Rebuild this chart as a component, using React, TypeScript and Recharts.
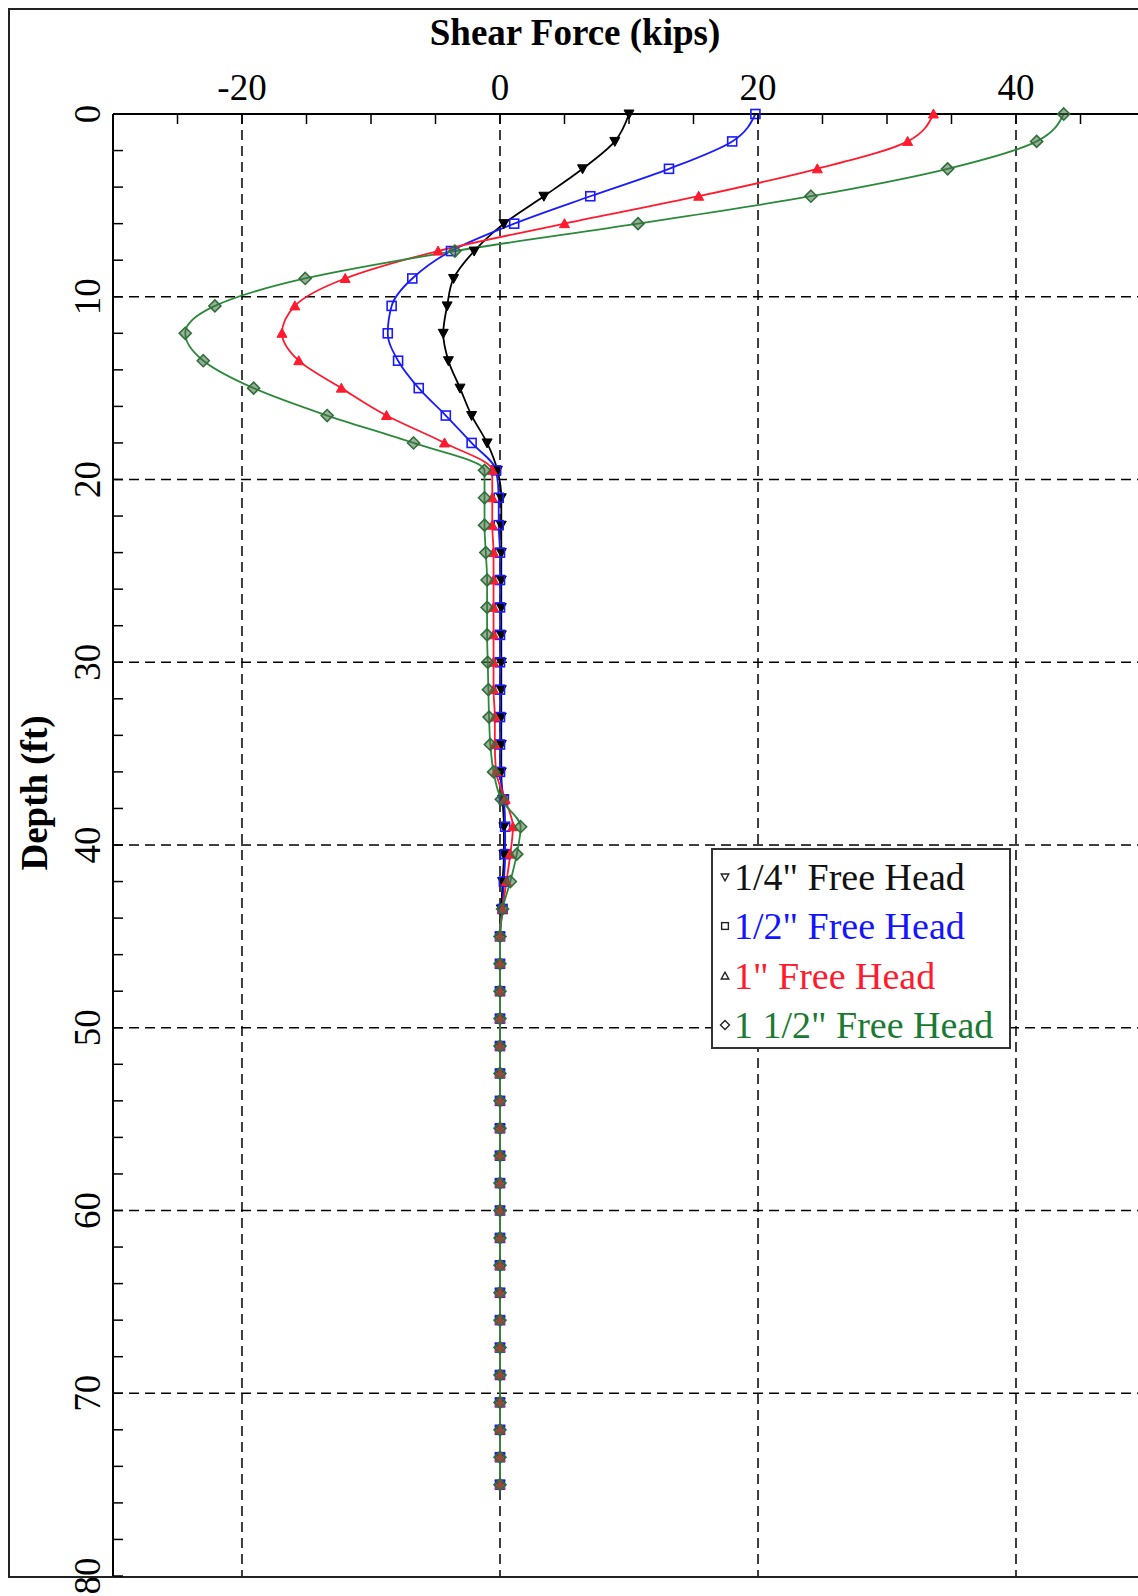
import { Line, LineChart, ReferenceLine, XAxis, YAxis } from "recharts";

// depth below pile head (ft), one marker every 1.5 ft
const DEPTHS = [
  0, 1.5, 3, 4.5, 6, 7.5, 9, 10.5, 12, 13.5, 15, 16.5, 18, 19.5, 21, 22.5, 24, 25.5, 27, 28.5, 30,
  31.5, 33, 34.5, 36, 37.5, 39, 40.5, 42, 43.5, 45, 46.5, 48, 49.5, 51, 52.5, 54, 55.5, 57, 58.5, 60,
  61.5, 63, 64.5, 66, 67.5, 69, 70.5, 72, 73.5, 75,
];

// shear force (kips)
const SHEAR_QUARTER = [
  10.0, 8.9, 6.4, 3.4, 0.3, -2.0, -3.6, -4.1, -4.4, -4.0, -3.1, -2.2, -1.0, -0.2,
  0.1, 0.1, 0.1, 0.1, 0.1, 0.1, 0.1, 0.1, 0.1, 0.1, 0.1,
  0.2, 0.3, 0.3, 0.2, 0.1,
  0, 0, 0, 0, 0, 0, 0, 0, 0, 0, 0, 0, 0, 0, 0, 0, 0, 0, 0, 0, 0,
];
const SHEAR_HALF = [
  19.8, 18.0, 13.1, 7.0, 1.1, -3.8, -6.8, -8.4, -8.7, -7.9, -6.3, -4.2, -2.2, -0.3,
  -0.1, -0.1, 0, 0, 0, 0, 0, 0, 0, 0, 0,
  0.3, 0.4, 0.4, 0.3, 0.2,
  0, 0, 0, 0, 0, 0, 0, 0, 0, 0, 0, 0, 0, 0, 0, 0, 0, 0, 0, 0, 0,
];
const SHEAR_ONE = [
  33.6, 31.6, 24.6, 15.4, 5.0, -4.8, -12.0, -15.9, -16.9, -15.6, -12.3, -8.8, -4.3, -0.6,
  -0.6, -0.6, -0.5, -0.5, -0.5, -0.5, -0.5, -0.5, -0.4, -0.4, -0.3,
  0.4, 1.0, 0.8, 0.5, 0.2,
  0, 0, 0, 0, 0, 0, 0, 0, 0, 0, 0, 0, 0, 0, 0, 0, 0, 0, 0, 0, 0,
];
const SHEAR_ONE_HALF = [
  43.7, 41.6, 34.7, 24.1, 10.7, -3.5, -15.1, -22.1, -24.4, -23.0, -19.1, -13.4, -6.7, -1.2,
  -1.2, -1.2, -1.1, -1.0, -1.0, -1.0, -0.95, -0.9, -0.85, -0.75, -0.5,
  0.1, 1.6, 1.3, 0.8, 0.2,
  0, 0, 0, 0, 0, 0, 0, 0, 0, 0, 0, 0, 0, 0, 0, 0, 0, 0, 0, 0, 0,
];

const X_TICKS = [-30, -25, -20, -15, -10, -5, 0, 5, 10, 15, 20, 25, 30, 35, 40, 45, 50];
const X_LABELS = [-20, 0, 20, 40];
const Y_TICKS = [
  0, 2, 4, 6, 8, 10, 12, 14, 16, 18, 20, 22, 24, 26, 28, 30, 32, 34, 36, 38, 40,
  42, 44, 46, 48, 50, 52, 54, 56, 58, 60, 62, 64, 66, 68, 70, 72, 74, 76, 78, 80,
];
const Y_LABELS = [0, 10, 20, 30, 40, 50, 60, 70, 80];
const X_GRID = [-20, 0, 20, 40];
const Y_GRID = [10, 20, 30, 40, 50, 60, 70];

const SERIES = [
  { key: "quarter", name: '1/4" Free Head', color: "#000000", text: "#111111", marker: "down" },
  { key: "half", name: '1/2" Free Head', color: "#1a1aff", text: "#1414ff", marker: "square" },
  { key: "one", name: '1" Free Head', color: "#ff1a2e", text: "#ff1a2e", marker: "up" },
  { key: "oneHalf", name: '1 1/2" Free Head', color: "#2a8a3a", text: "#1b7a32", marker: "diamond" },
];

const data = DEPTHS.map((depth, i) => ({
  depth,
  quarter: SHEAR_QUARTER[i],
  half: SHEAR_HALF[i],
  one: SHEAR_ONE[i],
  oneHalf: SHEAR_ONE_HALF[i],
}));

const FONT = '"Liberation Serif", "Times New Roman", serif';
const PLOT_LEFT = 113;
const PLOT_TOP = 114;

// open = legend style (hollow, thin outline)
function markerShape(kind: string, cx: number, cy: number, color: string, s = 1, open = false) {
  if (kind === "down") {
    return (
      <path
        d={`M${cx - 5 * s},${cy - 4 * s}L${cx + 5 * s},${cy - 4 * s}L${cx},${cy + 5 * s}Z`}
        fill={open ? "none" : color}
        stroke={color}
        strokeWidth={open ? 1.4 : 1}
      />
    );
  }
  if (kind === "up") {
    return (
      <path
        d={`M${cx - 5 * s},${cy + 4 * s}L${cx + 5 * s},${cy + 4 * s}L${cx},${cy - 5 * s}Z`}
        fill={open ? "none" : color}
        stroke={color}
        strokeWidth={open ? 1.4 : 1}
      />
    );
  }
  if (kind === "square") {
    return (
      <rect
        x={cx - 4.5 * s}
        y={cy - 4.5 * s}
        width={9 * s}
        height={9 * s}
        fill="none"
        stroke={color}
        strokeWidth={open ? 1.4 : 1.6}
      />
    );
  }
  return (
    <path
      d={`M${cx},${cy - 6 * s}L${cx + 6 * s},${cy}L${cx},${cy + 6 * s}L${cx - 6 * s},${cy}Z`}
      fill={open ? "none" : "rgba(70,110,70,0.55)"}
      stroke={open ? color : "#2f6f3a"}
      strokeWidth={open ? 1.4 : 1.6}
    />
  );
}

function XTick(props: any) {
  const { x, payload } = props;
  return (
    <g>
      <line x1={x} y1={PLOT_TOP} x2={x} y2={PLOT_TOP + 10} stroke="#000" strokeWidth={1.5} />
      {X_LABELS.includes(payload.value) && (
        <text x={x} y={87} dy="0.34em" textAnchor="middle" fontSize={37} fontFamily={FONT} fill="#000">
          {payload.value}
        </text>
      )}
    </g>
  );
}

function YTick(props: any) {
  const { y, payload } = props;
  return (
    <g>
      <line x1={PLOT_LEFT} y1={y} x2={PLOT_LEFT + 10} y2={y} stroke="#000" strokeWidth={1.5} />
      {Y_LABELS.includes(payload.value) && (
        <text transform={`translate(87, ${y}) rotate(-90)`} dy="0.34em" textAnchor="middle" fontSize={37} fontFamily={FONT} fill="#000">
          {payload.value}
        </text>
      )}
    </g>
  );
}

function XTitle() {
  return (
    <text x={575} y={45} textAnchor="middle" fontSize={37} fontWeight="bold" fontFamily={FONT} fill="#000">
      Shear Force (kips)
    </text>
  );
}

function YTitle() {
  return (
    <text transform="translate(34, 793) rotate(-90)" dy="0.34em" textAnchor="middle" fontSize={37} fontWeight="bold" fontFamily={FONT} fill="#000">
      Depth (ft)
    </text>
  );
}

function LegendBox() {
  return (
    <div
      style={{
        position: "absolute",
        left: 711,
        top: 848,
        width: 300,
        height: 201,
        boxSizing: "border-box",
        border: "2px solid #333",
        background: "#fff",
        padding: "2px 0 0 6px",
        fontFamily: FONT,
        fontSize: 38,
      }}
    >
      {SERIES.map((s) => (
        <div key={s.key} style={{ display: "flex", alignItems: "center", height: 49.5, whiteSpace: "nowrap" }}>
          <svg width={12} height={12} style={{ marginRight: 3 }}>
            {markerShape(s.marker, 6, 6, "#222", 0.75, true)}
          </svg>
          <span style={{ color: s.text }}>{s.name}</span>
        </div>
      ))}
    </div>
  );
}

export default function App() {
  return (
    <div style={{ position: "fixed", left: 0, top: 0, width: 1138, height: 1596, overflow: "hidden", background: "#fff" }}>
      <div
        style={{
          position: "absolute",
          left: 8,
          top: 8,
          width: 1300,
          height: 1570,
          border: "2px solid #222",
          boxSizing: "border-box",
        }}
      />
      <div style={{ position: "absolute", left: 0, top: 0 }}>
        <LineChart
          width={1200}
          height={1596}
          data={data}
          layout="vertical"
          margin={{ top: PLOT_TOP - 1, right: 55, bottom: 20, left: PLOT_LEFT - 1 }}
        >
          <XAxis
            type="number"
            orientation="top"
            domain={[-30, 50]}
            ticks={X_TICKS}
            height={1}
            interval={0}
            tickLine={false}
            axisLine={{ stroke: "#000", strokeWidth: 2 }}
            tick={<XTick />}
            label={<XTitle />}
          />
          <YAxis
            type="number"
            dataKey="depth"
            domain={[0, 80]}
            ticks={Y_TICKS}
            width={1}
            interval={0}
            tickLine={false}
            axisLine={{ stroke: "#000", strokeWidth: 2 }}
            tick={<YTick />}
            label={<YTitle />}
          />
          {X_GRID.map((v) => (
            <ReferenceLine key={`x${v}`} x={v} stroke="#000" strokeWidth={1.5} strokeDasharray="10 6" />
          ))}
          {Y_GRID.map((v) => (
            <ReferenceLine key={`y${v}`} y={v} stroke="#000" strokeWidth={1.5} strokeDasharray="10 6" />
          ))}
          {SERIES.map((s) => (
            <Line
              key={s.key}
              dataKey={s.key}
              name={s.name}
              type="monotone"
              stroke={s.color}
              strokeWidth={1.8}
              isAnimationActive={false}
              dot={(p: any) => <g key={`${s.key}-${p.index}`}>{markerShape(s.marker, p.cx, p.cy, s.color)}</g>}
              activeDot={false}
            />
          ))}
        </LineChart>
      </div>
      <LegendBox />
    </div>
  );
}
